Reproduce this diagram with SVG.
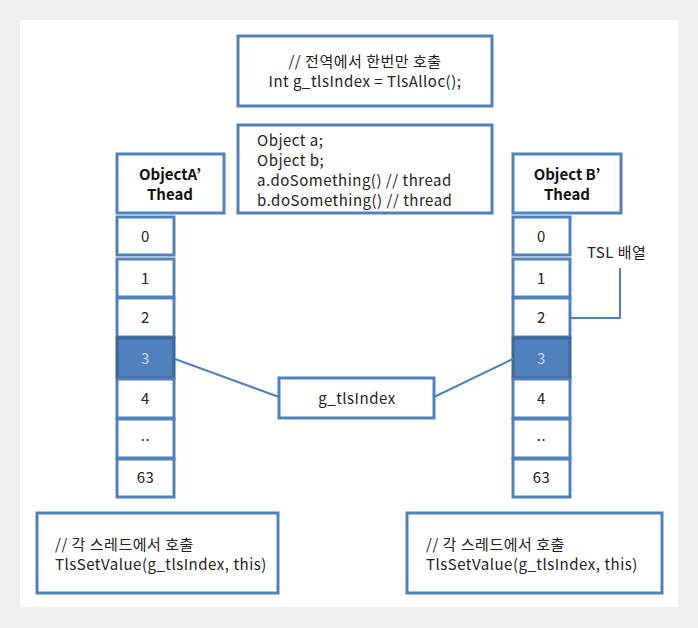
<svg xmlns="http://www.w3.org/2000/svg" width="698" height="628" viewBox="0 0 698 628">
<style>
.box{fill:#fff;stroke:#4f81bd;stroke-width:3}
.cell{fill:#fff;stroke:#4f81bd;stroke-width:3}
.sel{fill:#4f81bd;stroke:#3a6699;stroke-width:3}
.t{font-family:"Noto Sans CJK KR","Noto Sans",sans-serif;font-size:15px;letter-spacing:0.5px;fill:#222}
.c{text-anchor:middle}
.h{font-family:"Noto Sans CJK KR","Noto Sans",sans-serif;font-size:15px;font-weight:bold;fill:#111;text-anchor:middle}
.w{fill:#c6d9f1}
.ln{stroke:#4f81bd;stroke-width:2;fill:none}
</style>
<rect x="0" y="0" width="698" height="628" fill="#efefef"/>
<rect x="20" y="20" width="658" height="587" fill="#fff"/>
<g id="alloc">
<rect class="box" x="238" y="36" width="254" height="70"/>
<text class="t c" x="365" y="67">// 전역에서 한번만 호출</text>
<text class="t c" x="365" y="87">Int g_tlsIndex = TlsAlloc();</text>
</g>
<g id="objects">
<rect class="box" x="238" y="125" width="254" height="88"/>
<text class="t" x="257" y="146">Object a;</text>
<text class="t" x="257" y="166">Object b;</text>
<text class="t" x="257" y="186">a.doSomething() // thread</text>
<text class="t" x="257" y="206">b.doSomething() // thread</text>
</g>
<g id="threadA">
<rect class="box" x="117" y="154" width="107" height="59"/>
<text class="h" x="170" y="180">ObjectA’</text>
<text class="h" x="170" y="200">Thead</text>
<rect class="cell" x="117" y="217" width="57" height="38"/>
<rect class="cell" x="117" y="259" width="57" height="38"/>
<rect class="cell" x="117" y="298" width="57" height="39"/>
<rect class="sel" x="117" y="338" width="57" height="40"/>
<rect class="cell" x="117" y="379" width="57" height="39"/>
<rect class="cell" x="117" y="419" width="57" height="39"/>
<rect class="cell" x="117" y="459" width="57" height="38"/>
<text class="t c" x="145.5" y="242">0</text>
<text class="t c" x="145.5" y="284">1</text>
<text class="t c" x="145.5" y="323">2</text>
<text class="t c w" x="145.5" y="364">3</text>
<text class="t c" x="145.5" y="404">4</text>
<text class="t c" x="145.5" y="441">..</text>
<text class="t c" x="145.5" y="483">63</text>
</g>
<g id="threadB">
<rect class="box" x="513" y="154" width="108" height="59"/>
<text class="h" x="567" y="180">Object B’</text>
<text class="h" x="567" y="200">Thead</text>
<rect class="cell" x="513" y="217" width="57" height="38"/>
<rect class="cell" x="513" y="259" width="57" height="38"/>
<rect class="cell" x="513" y="298" width="57" height="39"/>
<rect class="sel" x="513" y="338" width="57" height="40"/>
<rect class="cell" x="513" y="379" width="57" height="39"/>
<rect class="cell" x="513" y="419" width="57" height="39"/>
<rect class="cell" x="513" y="459" width="57" height="38"/>
<text class="t c" x="541.5" y="242">0</text>
<text class="t c" x="541.5" y="284">1</text>
<text class="t c" x="541.5" y="323">2</text>
<text class="t c w" x="541.5" y="364">3</text>
<text class="t c" x="541.5" y="404">4</text>
<text class="t c" x="541.5" y="441">..</text>
<text class="t c" x="541.5" y="483">63</text>
</g>
<g id="tslLabel">
<text class="t" x="587" y="258">TSL 배열</text>
</g>
<g id="index">
<rect class="box" x="279" y="378" width="155" height="40"/>
<text class="t c" x="357" y="404">g_tlsIndex</text>
</g>
<g id="setA">
<rect class="box" x="37" y="513" width="241" height="80"/>
<text class="t" x="55" y="550">// 각 스레드에서 호출</text>
<text class="t" x="55" y="570">TlsSetValue(g_tlsIndex, this)</text>
</g>
<g id="setB">
<rect class="box" x="407" y="513" width="255" height="80"/>
<text class="t" x="426" y="550">// 각 스레드에서 호출</text>
<text class="t" x="426" y="570">TlsSetValue(g_tlsIndex, this)</text>
</g>
<g id="connectors">
<line class="ln" x1="175" y1="359" x2="279" y2="397"/>
<line class="ln" x1="434" y1="397" x2="513" y2="359"/>
<polyline class="ln" points="571,318 620,318 620,268"/>
</g>
</svg>
